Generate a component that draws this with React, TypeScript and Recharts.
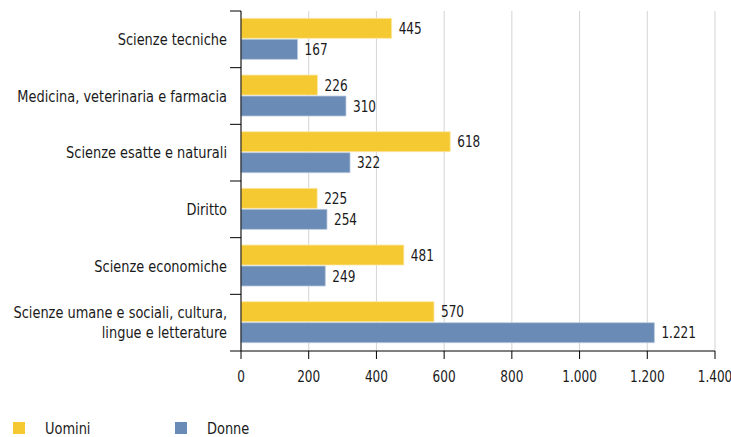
import React from 'react';
import { BarChart, Bar, XAxis, YAxis, CartesianGrid, Legend, LabelList } from 'recharts';

const categories = [
  'Scienze tecniche',
  'Medicina, veterinaria e farmacia',
  'Scienze esatte e naturali',
  'Diritto',
  'Scienze economiche',
  'Scienze umane e sociali, cultura,\nlingue e letterature',
];
const uomini = [445, 226, 618, 225, 481, 570];
const donne = [167, 310, 322, 254, 249, 1221];
const xTicks = [0, 200, 400, 600, 800, 1000, 1200, 1400];
const seriesNames = ['Uomini', 'Donne'];
const colors = ['#F5C932', '#6A8BB6'];

const data = categories.map((c, i) => ({ name: c, uomini: uomini[i], donne: donne[i] }));

const FONT = '"Liberation Sans Narrow", "DejaVu Sans Condensed", "Arial Narrow", sans-serif';
const FS = 16;
const SX_TEXT = 0.9;
const SX_NUM = 0.84;
const INK = '#1a1a1a';
const TICK_MARGIN = 14;
const TICK_LEN = 11;

const fmt = (v: number) => {
  const s = String(Math.round(v));
  return s.replace(/\B(?=(\d{3})+(?!\d))/g, '.');
};

const CatTick = (props: any) => {
  const { x, y, payload, index, visibleTicksCount } = props;
  const lines = String(payload.value).split('\n');
  const lh = 20;
  const start = -((lines.length - 1) * lh) / 2;
  const half = Number(payload.offset) || 0;
  const axisX = Number(x) + TICK_MARGIN;
  const isLast = index === (visibleTicksCount ?? categories.length) - 1;
  return (
    <g>
      {half > 0 && (
        <line x1={axisX - TICK_LEN} x2={axisX} y1={y - half} y2={y - half} stroke="#000" strokeWidth={1} />
      )}
      {half > 0 && isLast && (
        <line x1={axisX - TICK_LEN} x2={axisX} y1={y + half} y2={y + half} stroke="#000" strokeWidth={1} />
      )}
      <g transform={`translate(${x},${y}) scale(${SX_TEXT},1)`}>
        <text x={0} y={0} textAnchor="end" fontFamily={FONT} fontSize={FS} fill={INK}>
          {lines.map((l, i) => (
            <tspan key={i} x={0} y={start + i * lh} dy="0.36em">
              {l}
            </tspan>
          ))}
        </text>
      </g>
    </g>
  );
};

const NumTick = (props: any) => {
  const { x, y, payload } = props;
  return (
    <g transform={`translate(${x},${y}) scale(${SX_NUM},1)`}>
      <text x={0} y={0} dy="0.71em" textAnchor="middle" fontFamily={FONT} fontSize={FS} fill={INK}>
        {fmt(payload.value)}
      </text>
    </g>
  );
};

const BarLabel = (props: any) => {
  const { x, y, width, height, value } = props;
  const lx = Number(x) + Number(width) + 7;
  const ly = Number(y) + Number(height) / 2;
  return (
    <g transform={`translate(${lx},${ly}) scale(${SX_NUM},1)`}>
      <text x={0} y={0} dy="0.36em" textAnchor="start" fontFamily={FONT} fontSize={FS} fill={INK}>
        {fmt(value)}
      </text>
    </g>
  );
};

const LegendContent = () => (
  <div style={{ display: 'flex', height: 22, alignItems: 'center', fontFamily: FONT, fontSize: FS, color: INK }}>
    {seriesNames.map((n, i) => (
      <div key={n} style={{ display: 'flex', alignItems: 'center', width: 162, paddingLeft: 13, boxSizing: 'border-box' }}>
        <span style={{ display: 'inline-block', width: 12, height: 12, background: colors[i], marginRight: 20 }} />
        <span style={{ display: 'inline-block', transform: `scaleX(${SX_TEXT})`, transformOrigin: 'left center' }}>{n}</span>
      </div>
    ))}
  </div>
);

export default function App() {
  return (
    <div style={{ position: 'absolute', left: 0, top: 0, width: 731, height: 437 }}>
      <BarChart
        width={731}
        height={437}
        data={data}
        layout="vertical"
        margin={{ top: 11, right: 16, left: 0, bottom: 16 }}
        barCategoryGap="13%"
        barGap={1}
      >
        <CartesianGrid horizontal={false} stroke="#d4d4d4" strokeWidth={1} />
        <XAxis
          type="number"
          domain={[0, 1400]}
          ticks={xTicks}
          axisLine={{ stroke: '#000' }}
          tickLine={{ stroke: '#000' }}
          tickSize={8}
          tickMargin={12}
          height={48}
          interval={0}
          tick={<NumTick />}
        />
        <XAxis
          xAxisId="top"
          orientation="top"
          type="number"
          domain={[0, 1400]}
          tick={false}
          tickLine={false}
          axisLine={{ stroke: '#d4d4d4' }}
          height={0}
        />
        <YAxis
          type="category"
          dataKey="name"
          width={241}
          axisLine={{ stroke: '#000' }}
          tickLine={false}
          tickSize={0}
          tickMargin={TICK_MARGIN}
          interval={0}
          tick={<CatTick />}
        />
        <Legend verticalAlign="bottom" align="left" content={<LegendContent />} wrapperStyle={{ left: 0, bottom: -2 }} />
        <Bar dataKey="uomini" name={seriesNames[0]} fill={colors[0]} isAnimationActive={false} stroke="#fbe8a8" strokeWidth={0.8}>
          <LabelList dataKey="uomini" content={<BarLabel />} />
        </Bar>
        <Bar dataKey="donne" name={seriesNames[1]} fill={colors[1]} isAnimationActive={false} stroke="#b9c9de" strokeWidth={0.8}>
          <LabelList dataKey="donne" content={<BarLabel />} />
        </Bar>
      </BarChart>
    </div>
  );
}
